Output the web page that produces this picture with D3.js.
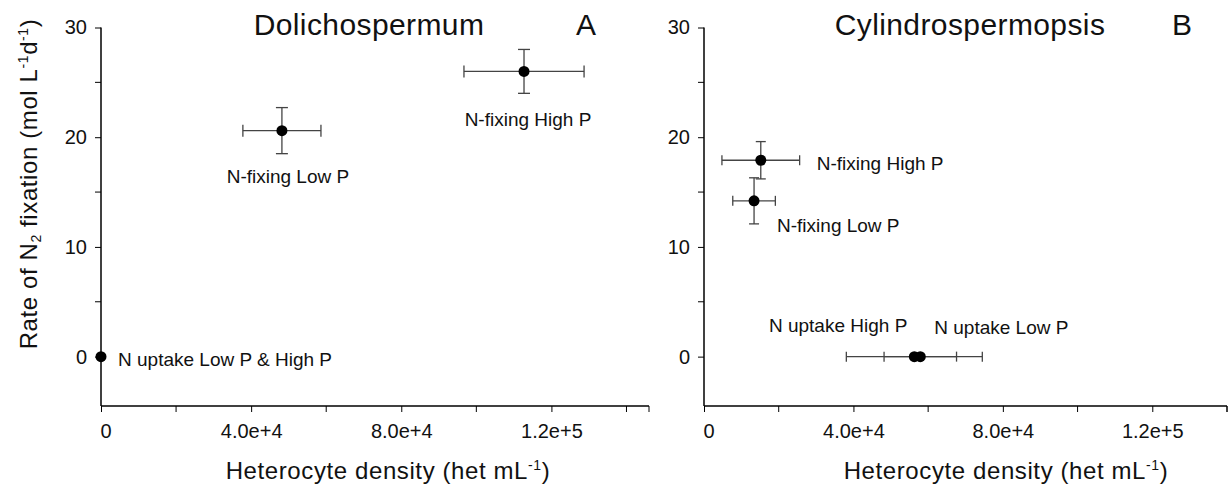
<!DOCTYPE html>
<html lang="en">

<head>
    <meta charset="utf-8">
    <title>N2 fixation vs heterocyte density</title>
    <script src="https://cdn.jsdelivr.net/npm/d3@7/dist/d3.min.js"></script>
    <style>
        body {
            margin: 0;
            background: #fff;
        }

        svg text {
            font-family: "Liberation Sans", Arial, sans-serif;
            fill: #111;
        }
    </style>
</head>

<body>
    <div id="chart"></div>

    <script type="text/javascript">
        // shared axis ticks
        var xTicks = [0, 40000, 80000, 120000];
        var xTickLabels = ["0", "4.0e+4", "8.0e+4", "1.2e+5"];
        var xMinorTicks = [20000, 60000, 100000, 140000];
        var yTicks = [0, 10, 20, 30];
        var yMinorTicks = [5, 15, 25];

        // panel A - Dolichospermum
        var aLabels = ["N-fixing Low P", "N-fixing High P", "N uptake Low P & High P"];
        var aX = [48200, 112700, 0];
        var aY = [20.6, 26.0, 0];
        var aXerr = [10400, 16000, 0];
        var aYerr = [2.1, 2.0, 0];

        // panel B - Cylindrospermopsis
        var bLabels = ["N-fixing Low P", "N-fixing High P", "N uptake High P", "N uptake Low P"];
        var bX = [13400, 15200, 56300, 57900];
        var bY = [14.2, 17.9, 0, 0];
        var bXerr = [5700, 10400, 18200, 9700];
        var bYerr = [2.1, 1.7, 0, 0];

        var width = 1228, height = 487;

        var svg = d3.select('#chart')
            .append('svg')
            .attr('width', width)
            .attr('height', height);

        // label placement relative to the point (pixels)
        var panels = [
            {
                title: 'Dolichospermum', letter: 'A',
                titleX: 369, letterX: 576,
                xDomain: [0, 146000], xRange: [101, 649],
                xTitleX: 388,
                labels: aLabels, x: aX, y: aY, xerr: aXerr, yerr: aYerr,
                place: [
                    { dx: 6, dy: 52, anchor: 'middle' },
                    { dx: 4, dy: 55, anchor: 'middle' },
                    { dx: 17, dy: 9, anchor: 'start' }
                ],
                cap: 6,
                yTitle: true
            },
            {
                title: 'Cylindrospermopsis', letter: 'B',
                titleX: 970, letterX: 1172,
                xDomain: [0, 140000], xRange: [704, 1227],
                xTitleX: 1006,
                labels: bLabels, x: bX, y: bY, xerr: bXerr, yerr: bYerr,
                place: [
                    { dx: 23, dy: 31, anchor: 'start' },
                    { dx: 56, dy: 10, anchor: 'start' },
                    { dx: -7, dy: -25, anchor: 'end' },
                    { dx: 14, dy: -23, anchor: 'start' }
                ],
                cap: 5,
                yTitle: false
            }
        ];

        var yScale = d3.scaleLinear()
            .domain([-4.5, 30])
            .range([406, 27.5]);

        panels.forEach(function (p) {
            var xScale = d3.scaleLinear()
                .domain(p.xDomain)
                .range(p.xRange);
            var x0 = p.xRange[0];
            var yBottom = yScale(-4.5);

            var g = svg.append('g');

            // y axis
            var yAxis = g.append('g')
                .attr('transform', 'translate(' + x0 + ',0)')
                .call(d3.axisLeft(yScale).tickValues(yTicks).tickSize(6).tickPadding(8).tickFormat(d3.format('d')));
            yAxis.select('.domain').remove();
            yAxis.append('g')
                .selectAll('line')
                .data(yMinorTicks)
                .enter()
                .append('line')
                .attr('x1', -6).attr('x2', 0)
                .attr('y1', d => yScale(d)).attr('y2', d => yScale(d))
                .attr('stroke', '#000');
            yAxis.append('line')
                .attr('x1', 0).attr('x2', 0)
                .attr('y1', yScale(30)).attr('y2', yBottom)
                .attr('stroke', '#000').attr('stroke-width', 1.5);

            // x axis
            var xAxis = g.append('g')
                .attr('transform', 'translate(0,' + yBottom + ')')
                .call(d3.axisBottom(xScale).tickValues(xTicks).tickSize(6).tickPadding(12)
                    .tickFormat((d, i) => xTickLabels[i]));
            xAxis.select('.domain').remove();
            xAxis.selectAll('.tick')
                .filter(d => d === 0)
                .select('text')
                .attr('text-anchor', 'start')
                .attr('dx', -1);
            xAxis.append('g')
                .selectAll('line')
                .data(xMinorTicks)
                .enter()
                .append('line')
                .attr('x1', d => xScale(d)).attr('x2', d => xScale(d))
                .attr('y1', 0).attr('y2', 6)
                .attr('stroke', '#000');
            xAxis.append('line')
                .attr('x1', x0).attr('x2', p.xRange[1])
                .attr('y1', 0).attr('y2', 0)
                .attr('stroke', '#000').attr('stroke-width', 1.5);
            xAxis.append('line')
                .attr('x1', p.xRange[1]).attr('x2', p.xRange[1])
                .attr('y1', 0).attr('y2', 6)
                .attr('stroke', '#000');

            g.selectAll('.tick text')
                .style('font-size', '20px')
                .style('fill', '#111');
            g.selectAll('.tick line').attr('stroke', '#000');

            // titles
            g.append('text')
                .attr('x', p.titleX).attr('y', 35)
                .attr('text-anchor', 'middle')
                .style('font-size', '30px')
                .style('letter-spacing', '0.4px')
                .text(p.title);
            g.append('text')
                .attr('x', p.letterX).attr('y', 35)
                .style('font-size', '30px')
                .text(p.letter);

            // x axis title
            var xt = g.append('text')
                .attr('x', p.xTitleX).attr('y', 479)
                .attr('text-anchor', 'middle')
                .style('font-size', '24px')
                .style('letter-spacing', '0.6px');
            xt.append('tspan').text('Heterocyte density (het mL');
            xt.append('tspan').attr('dy', -9).style('font-size', '14px').text('-1');
            xt.append('tspan').attr('dy', 9).text(')');

            if (p.yTitle) {
                var yt = g.append('text')
                    .attr('transform', 'translate(37,184) rotate(-90)')
                    .attr('text-anchor', 'middle')
                    .style('font-size', '24px')
                    .style('letter-spacing', '0.6px');
                yt.append('tspan').text('Rate of N');
                yt.append('tspan').attr('dy', 4).style('font-size', '14px').text('2');
                yt.append('tspan').attr('dy', -4).text(' fixation (mol L');
                yt.append('tspan').attr('dy', -9).style('font-size', '14px').text('-1');
                yt.append('tspan').attr('dy', 9).text('d');
                yt.append('tspan').attr('dy', -9).style('font-size', '14px').text('-1');
                yt.append('tspan').attr('dy', 9).text(')');
            }

            var pts = p.labels.map(function (l, i) {
                return { label: l, x: p.x[i], y: p.y[i], xerr: p.xerr[i], yerr: p.yerr[i], place: p.place[i] };
            });

            var bars = g.append('g').attr('stroke', '#444').attr('stroke-width', 1.3);

            pts.forEach(function (d) {
                var cx = xScale(d.x), cy = yScale(d.y);
                if (d.xerr > 0) {
                    var xl = xScale(d.x - d.xerr), xr = xScale(d.x + d.xerr);
                    bars.append('line').attr('x1', xl).attr('x2', xr).attr('y1', cy).attr('y2', cy);
                    bars.append('line').attr('x1', xl).attr('x2', xl).attr('y1', cy - p.cap).attr('y2', cy + p.cap);
                    bars.append('line').attr('x1', xr).attr('x2', xr).attr('y1', cy - p.cap).attr('y2', cy + p.cap);
                }
                if (d.yerr > 0) {
                    var yt2 = yScale(d.y + d.yerr), yb = yScale(d.y - d.yerr);
                    bars.append('line').attr('x1', cx).attr('x2', cx).attr('y1', yt2).attr('y2', yb);
                    bars.append('line').attr('x1', cx - p.cap).attr('x2', cx + p.cap).attr('y1', yt2).attr('y2', yt2);
                    bars.append('line').attr('x1', cx - p.cap).attr('x2', cx + p.cap).attr('y1', yb).attr('y2', yb);
                }
            });

            g.selectAll('circle.pt')
                .data(pts)
                .enter()
                .append('circle')
                .attr('class', 'pt')
                .attr('cx', d => xScale(d.x))
                .attr('cy', d => yScale(d.y))
                .attr('r', 5.5)
                .attr('fill', '#000');

            g.selectAll('text.lbl')
                .data(pts)
                .enter()
                .append('text')
                .attr('class', 'lbl')
                .attr('x', d => xScale(d.x) + d.place.dx)
                .attr('y', d => yScale(d.y) + d.place.dy)
                .attr('text-anchor', d => d.place.anchor)
                .style('font-size', '19px')
                .text(d => d.label);
        });
    </script>
</body>

</html>
